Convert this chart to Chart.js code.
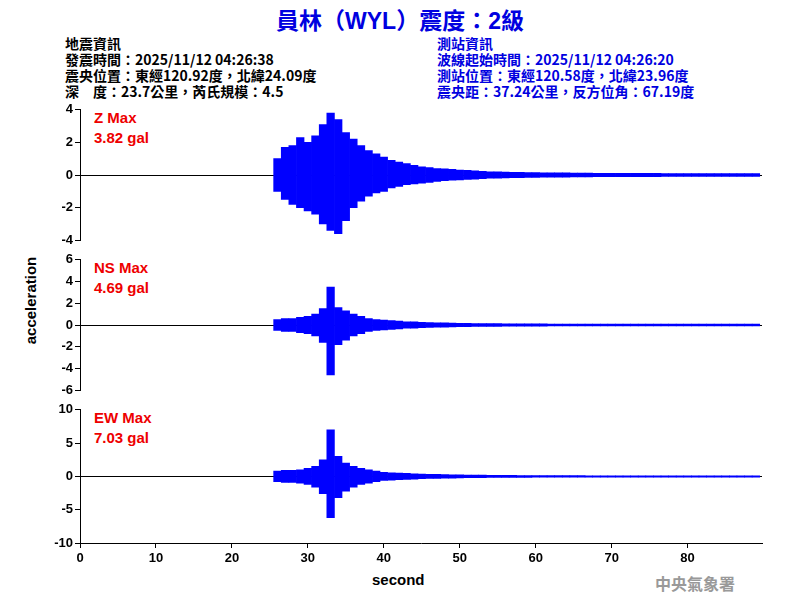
<!DOCTYPE html>
<html><head><meta charset="utf-8">
<script src="https://cdn.jsdelivr.net/npm/chart.js@4"></script>
<style>
body{margin:0;width:800px;height:600px;background:#fff;position:relative;font-family:"Liberation Sans",Arial,sans-serif;overflow:hidden}
.c{position:absolute;left:30px;width:770px}
.t{position:absolute;white-space:nowrap}
.h{font-family:"Noto Sans CJK TC","Liberation Sans";font-size:14px;line-height:16px;font-weight:bold}
.mx{position:absolute;left:94px;color:#e00;font-weight:bold;font-size:15px;line-height:20px}
</style></head><body>
<div class="t" style="left:0;width:800px;top:2px;text-align:center;color:#0000e0;font-weight:bold;font-size:23px;font-family:'Liberation Sans','Noto Sans CJK TC'">員林（WYL）震度：2級</div>
<div class="t h" style="left:65px;top:35px;color:#000">地震資訊<br>發震時間：2025/11/12 04:26:38<br>震央位置：東經120.92度，北緯24.09度<br>深　度：23.7公里，芮氏規模：4.5</div>
<div class="t h" style="left:437px;top:35px;color:#0000e0">測站資訊<br>波線起始時間：2025/11/12 04:26:20<br>測站位置：東經120.58度，北緯23.96度<br>震央距：37.24公里，反方位角：67.19度</div>
<div class="mx" style="top:108px">Z Max<br>3.82 gal</div>
<div class="mx" style="top:258px">NS Max<br>4.69 gal</div>
<div class="mx" style="top:408px">EW Max<br>7.03 gal</div>
<div class="t" style="left:-13px;top:292px;font-weight:bold;font-size:15px;transform:rotate(-90deg)">acceleration</div>
<div class="t" style="left:372px;top:571px;font-weight:bold;font-size:15px">second</div>
<div class="t" style="left:655px;top:571px;color:#999;font-weight:bold;font-size:16px;font-family:'Noto Sans CJK TC'">中央氣象署</div>
<canvas id="c1" class="c" style="top:100px;height:150px"></canvas>
<canvas id="c2" class="c" style="top:250px;height:150px"></canvas>
<canvas id="c3" class="c" style="top:400px;height:200px"></canvas>
<script>
const startSec = 26;
const zHi = [1.0,1.7,1.8,2.3,2.0,2.4,3.1,3.8,3.4,2.6,2.2,1.8,1.5,1.3,1.1,0.9,0.8,0.7,0.6,0.5,0.45,0.4,0.38,0.35,0.3,0.28,0.25,0.22,0.2,0.2,0.18,0.17,0.16,0.15,0.15,0.14,0.14,0.13,0.13,0.12,0.12,0.12,0.11,0.11,0.1,0.1,0.1,0.1,0.1,0.1,0.1,0.09,0.09,0.09,0.09,0.09,0.09,0.09,0.08,0.08,0.08,0.08,0.08,0.08];
const zLo = [-1.0,-1.5,-1.8,-2.0,-2.2,-2.4,-3.0,-3.4,-3.6,-2.8,-2.0,-1.6,-1.3,-1.1,-1.0,-0.8,-0.7,-0.6,-0.55,-0.5,-0.45,-0.4,-0.35,-0.32,-0.3,-0.27,-0.25,-0.22,-0.2,-0.2,-0.18,-0.17,-0.16,-0.15,-0.15,-0.14,-0.14,-0.13,-0.13,-0.12,-0.12,-0.12,-0.11,-0.11,-0.1,-0.1,-0.1,-0.1,-0.1,-0.1,-0.1,-0.09,-0.09,-0.09,-0.09,-0.09,-0.09,-0.09,-0.08,-0.08,-0.08,-0.08,-0.08,-0.08];
const nsHi = [0.5,0.6,0.6,0.7,0.8,1.0,1.5,3.5,1.6,1.3,1.0,0.8,0.6,0.5,0.45,0.4,0.35,0.3,0.3,0.25,0.22,0.2,0.2,0.18,0.16,0.15,0.14,0.13,0.12,0.12,0.11,0.11,0.1,0.1,0.1,0.1,0.09,0.09,0.09,0.09,0.09,0.08,0.08,0.08,0.08,0.08,0.08,0.08,0.08,0.08,0.08,0.08,0.08,0.08,0.08,0.08,0.08,0.08,0.08,0.08,0.08,0.08,0.08,0.08];
const nsLo = [-0.5,-0.6,-0.6,-0.7,-0.8,-1.0,-1.6,-4.6,-1.8,-1.4,-1.0,-0.8,-0.6,-0.5,-0.45,-0.4,-0.35,-0.3,-0.3,-0.25,-0.22,-0.2,-0.2,-0.18,-0.16,-0.15,-0.14,-0.13,-0.12,-0.12,-0.11,-0.11,-0.1,-0.1,-0.1,-0.1,-0.09,-0.09,-0.09,-0.09,-0.09,-0.08,-0.08,-0.08,-0.08,-0.08,-0.08,-0.08,-0.08,-0.08,-0.08,-0.08,-0.08,-0.08,-0.08,-0.08,-0.08,-0.08,-0.08,-0.08,-0.08,-0.08,-0.08,-0.08];
const ewHi = [0.8,0.9,0.9,1.0,1.2,1.5,2.5,7.0,3.0,2.0,1.5,1.2,1.0,0.8,0.6,0.55,0.5,0.45,0.4,0.35,0.32,0.3,0.28,0.25,0.22,0.2,0.2,0.18,0.17,0.16,0.15,0.15,0.14,0.14,0.13,0.13,0.12,0.12,0.12,0.11,0.11,0.1,0.1,0.1,0.1,0.1,0.1,0.1,0.1,0.1,0.1,0.1,0.1,0.1,0.1,0.1,0.1,0.1,0.1,0.1,0.1,0.1,0.1,0.1];
const ewLo = [-0.8,-0.9,-0.9,-1.0,-1.2,-1.6,-2.6,-6.2,-3.2,-2.2,-1.6,-1.2,-1.0,-0.8,-0.6,-0.55,-0.5,-0.45,-0.4,-0.35,-0.32,-0.3,-0.28,-0.25,-0.22,-0.2,-0.2,-0.18,-0.17,-0.16,-0.15,-0.15,-0.14,-0.14,-0.13,-0.13,-0.12,-0.12,-0.12,-0.11,-0.11,-0.1,-0.1,-0.1,-0.1,-0.1,-0.1,-0.1,-0.1,-0.1,-0.1,-0.1,-0.1,-0.1,-0.1,-0.1,-0.1,-0.1,-0.1,-0.1,-0.1,-0.1,-0.1,-0.1];
const xTicks = [0,10,20,30,40,50,60,70,80];

function makePanel(id, hi, lo, yMax, yStep, showX) {
  const n = Math.min(hi.length, lo.length);
  const data = [];
  for (let i = 0; i < n; i++) data.push({x: startSec + i, y: [lo[i], hi[i]]});
  const font = {family: 'Liberation Sans', size: 13, weight: 'bold'};
  new Chart(document.getElementById(id), {
    type: 'bar',
    data: {datasets: [{data, backgroundColor: '#0000ff', borderWidth: 0, barPercentage: 1, categoryPercentage: 1}]},
    options: {
      animation: false, responsive: false, maintainAspectRatio: false,
      layout: {padding: {top: 8, bottom: showX ? 0 : 7, right: 38, left: 0}},
      plugins: {legend: {display: false}, tooltip: {enabled: false}},
      scales: {
        x: {type: 'linear', min: 0, max: 89.8, display: showX, offset: false,
            afterFit: s => { if (showX) s.height = 57; },
            afterBuildTicks: s => { s.ticks = xTicks.map(v => ({value: v})); },
            grid: {drawOnChartArea: false, color: '#000', tickLength: 5, offset: false},
            border: {color: '#000'},
            ticks: {color: '#000', font, maxRotation: 0}},
        y: {min: -yMax, max: yMax,
            afterFit: s => { s.width = 50; },
            grid: {color: c => c.tick.value === 0 ? '#000' : 'rgba(0,0,0,0)', tickColor: '#000', tickLength: 5},
            border: {color: '#000'},
            ticks: {stepSize: yStep, autoSkip: false, color: '#000', font, padding: 2}}
      }
    }
  });
}
document.querySelectorAll('canvas').forEach(c => { c.width = 770; c.height = parseInt(c.style.height); });
makePanel('c1', zHi, zLo, 4, 2, false);
makePanel('c2', nsHi, nsLo, 6, 2, false);
makePanel('c3', ewHi, ewLo, 10, 5, true);
</script>
</body></html>
